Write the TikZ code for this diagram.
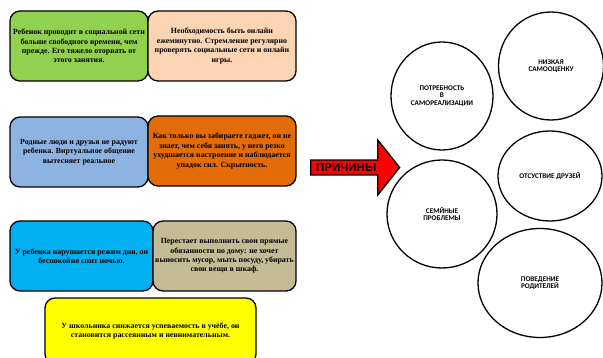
\documentclass[tikz,border=0pt]{standalone}
\usepackage{fontspec}
\setmainfont{Liberation Serif}
\setsansfont{Carlito}
\newfontfamily\arrowfont{Liberation Sans}
\usetikzlibrary{shapes.geometric,shapes.arrows}

\definecolor{cgreen}{HTML}{92D050}
\definecolor{cpeach}{HTML}{FBD4B4}
\definecolor{cblue}{HTML}{8DB3E2}
\definecolor{corange}{HTML}{E36C09}
\definecolor{ccyan}{HTML}{00B0F0}
\definecolor{ctan}{HTML}{C4BC96}
\definecolor{cyellow}{HTML}{FFFF00}

\tikzset{
  signbox/.style={draw, line width=1.3pt, rounded corners=10pt, inner sep=0pt,
    align=center, font=\bfseries\fontsize{7.9}{9.4}\selectfont},
  causecirc/.style={draw, line width=1.3pt, ellipse, inner sep=0pt, align=center,
    font=\sffamily\bfseries\fontsize{7.2}{7.6}\selectfont},
}

\begin{document}
\begin{tikzpicture}[x=1pt,y=-1pt]
				\clip (0,0) rectangle (603,358);
				\useasboundingbox (0,0) rectangle (603,358);
				
				% signs (left)
				\node[signbox, fill=cgreen, minimum width=138pt, minimum height=70pt] (net) at (79,46)
					{Ребенок проводит в социальной сети\\больше свободного времени, чем\\прежде. Его тяжело оторвать от\\этого занятия.};
				\node[signbox, fill=cpeach, minimum width=148pt, minimum height=70pt] (online) at (222,46)
					{Необходимость быть онлайн\\ежеминутно. Стремление регулярно\\проверять социальные сети и онлайн\\игры.};
				
				\node[signbox, fill=cblue, minimum width=138pt, minimum height=70pt] (family) at (79,152)
					{Родные люди и друзья не радуют\\ребенка. Виртуальное общение\\вытесняет реальное};
				\node[signbox, fill=corange, minimum width=148pt, minimum height=70pt] (gadget) at (222,151)
					{Как только вы забираете гаджет, он не\\знает, чем себя занять, у него резко\\ухудшается настроение и наблюдается\\упадок сил. Скрытность.};
				
				\node[signbox, fill=ccyan, minimum width=143pt, minimum height=70pt] (sleep) at (81.5,256)
					{У ребенка нарушается режим дня, он\\беспокойно спит ночью.};
				\node[signbox, fill=ctan, minimum width=143pt, minimum height=70pt] (duties) at (224.5,256)
					{Перестает выполнить свои прямые\\обязанности по дому: не хочет\\выносить мусор, мыть посуду, убирать\\свои вещи в шкаф.};
				
				\node[signbox, fill=cyellow, minimum width=211pt, minimum height=66pt] (school) at (150.5,331)
					{У школьника снижается успеваемость в учёбе, он\\становится рассеянным и невнимательным.};
				
				% arrow
				\node[single arrow, draw, line width=1.3pt, fill=red, inner sep=0pt,
					minimum width=55pt, minimum height=89pt, single arrow head extend=12.5pt,
					single arrow tip angle=103, anchor=west, font=\arrowfont\bfseries\fontsize{11.5}{12}\selectfont] (why) at (310,167.5)
					{\hspace*{-12pt}ПРИЧИНЫ};
				
				% causes (right)
				\node[causecirc, minimum width=102pt, minimum height=108pt] (selfreal) at (442,96)
					{ПОТРЕБНОСТЬ\\В\\САМОРЕАЛИЗАЦИИ};
				\node[causecirc, minimum width=105pt, minimum height=108pt] (esteem) at (551,66)
					{НИЗКАЯ\\САМООЦЕНКУ};
				\node[causecirc, minimum width=104pt, minimum height=90pt] (friends) at (550,176)
					{ОТСУСТВИЕ ДРУЗЕЙ};
				\node[causecirc, minimum width=110pt, minimum height=108pt] (problems) at (442,214)
					{СЕМЙНЫЕ\\ПРОБЛЕМЫ};
				\node[causecirc, minimum width=124pt, minimum height=109pt] (parents) at (540,283)
					{ПОВЕДЕНИЕ\\РОДИТЕЛЕЙ};
			\end{tikzpicture}
\end{document}
